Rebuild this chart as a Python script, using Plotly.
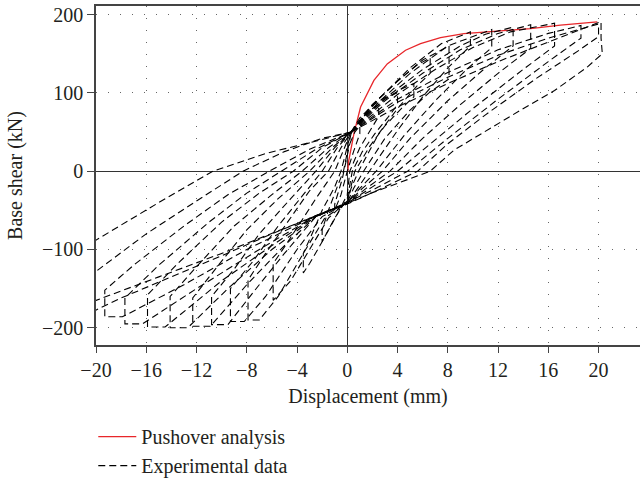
import plotly.graph_objects as go

# Pushover analysis curve (red)
pushover_x = [0.05, 0.1, 0.53, 1.06, 2.12, 3.18, 4.64, 5.83, 7.42, 9.28, 11.93, 14.58, 16.97, 19.9]
pushover_y = [0, 12, 48, 82, 116, 137, 154.5, 163, 170.7, 175.8, 179, 182, 186.5, 190.7]

# Experimental hysteresis cycles (largest first)
cyc00_x = [0.3, 4, 8, 12, 16, 19, 20.2, 20.2, 20.3, 19.1, 16.5, 13.8, 11.1, 8.5, 6.6, 4, 1.9, 0,
           -2.5, -5, -10, -15, -20, -22.5, -22.5, -20, -15, -10.7, -6.4, -2.1, 0.3]
cyc00_y = [50, 82, 112, 140, 165, 183, 191, 170, 150, 133, 103, 78, 52, 27, 0, -16, -28, -41,
           -57, -74, -105, -135, -165, -185, -150, -88, -40, 0, 23, 40, 50]
cyc01_x = [0.3, 4, 8, 12, 16, 19.5, 20.0, 20.0, 18.5, 15, 11, 8, 5.6, 3, 0,
           -2.5, -6, -10, -14, -18, -21, -21, -20, -16, -12, -8.3, -5, -2, 0.3]
cyc01_y = [50, 88, 120, 148, 170, 186, 188, 172, 155, 118, 72, 35, 0, -20, -42,
           -57, -80, -108, -135, -162, -185, -155, -128, -80, -38, 0, 25, 42, 50]
cyc02_x = [0.3, 4, 8, 12, 16, 18.6, 18.6, 16, 12, 8, 4.8, 2.5, 0,
           -2.5, -8, -13, -17.9, -19.3, -19.3, -17, -13, -9.5, -6.2, -3, 0.3]
cyc02_y = [50, 92, 126, 155, 176, 186, 170, 140, 92, 42, 0, -20, -40,
           -57, -100, -145, -186, -186, -152, -120, -70, -30, 0, 28, 50]
cyc03_x = [0.3, 4, 7, 10, 13, 16.5, 16.5, 14, 10, 7, 4, 2, 0,
           -2.5, -7, -12, -16.3, -17.7, -17.7, -15, -11, -8, -5.2, -2.5, 0.3]
cyc03_y = [50, 98, 130, 158, 178, 189, 160, 130, 80, 40, 0, -20, -41,
           -57, -100, -150, -195, -195, -162, -120, -65, -28, 0, 28, 50]
cyc04_x = [0.3, 3, 6, 9, 12, 14.6, 14.6, 12, 9, 6, 3.4, 1.5, 0,
           -2.5, -6, -10, -14.5, -15.9, -15.9, -13.5, -10, -7, -4.3, -2, 0.3]
cyc04_y = [50, 90, 125, 155, 176, 187, 157, 125, 85, 42, 0, -22, -41,
           -57, -95, -140, -199, -199, -158, -118, -65, -28, 0, 30, 50]
cyc05_x = [0.3, 3, 6, 9, 11, 13.2, 13.2, 11, 8, 5, 2.8, 1.2, 0,
           -2.5, -6, -9.5, -12.7, -14.1, -14.1, -12, -9, -6, -3.6, -1.5, 0.3]
cyc05_y = [50, 93, 130, 160, 175, 184, 160, 132, 90, 42, 0, -22, -41,
           -58, -100, -150, -200, -200, -160, -122, -70, -30, 0, 30, 50]
cyc06_x = [0.3, 2.5, 5, 8, 11.5, 11.5, 9.5, 7, 4.5, 2.3, 1, 0,
           -2.5, -5, -8, -10.9, -12.3, -12.3, -10.5, -8, -5.5, -3, -1.2, 0.3]
cyc06_y = [50, 88, 125, 160, 181, 158, 130, 90, 45, 0, -22, -41,
           -58, -95, -145, -198, -198, -162, -125, -75, -35, 0, 30, 50]
cyc07_x = [0.3, 2.5, 5, 7.5, 9.8, 9.8, 8, 6, 4, 1.8, 0.8, 0,
           -2.5, -5, -7.5, -9.5, -10.8, -10.8, -9, -7, -4.5, -2.5, -1, 0.3]
cyc07_y = [50, 92, 132, 163, 178, 160, 132, 95, 52, 0, -22, -41,
           -58, -105, -155, -196, -196, -160, -125, -80, -35, 0, 30, 50]
cyc08_x = [0.3, 2, 4, 6, 8.1, 8.1, 6.5, 5, 3, 1.3, 0.5, 0,
           -2, -4, -6.5, -8.2, -9.3, -9.3, -7.5, -5.5, -3.5, -2, -0.8, 0.3]
cyc08_y = [50, 85, 115, 142, 160, 118, 100, 78, 42, 0, -22, -40,
           -58, -100, -160, -192, -192, -150, -115, -70, -30, 0, 30, 50]
cyc09_x = [0.3, 2, 4, 5.5, 6.6, 6.6, 5.5, 4, 2.5, 0.9, 0.3, 0,
           -1.8, -3.5, -5.5, -7, -7.9, -7.9, -6.5, -4.5, -3, -1.5, -0.5, 0.3]
cyc09_y = [50, 85, 115, 135, 145, 125, 108, 80, 48, 0, -22, -40,
           -60, -105, -160, -190, -190, -139, -105, -60, -25, 0, 30, 50]
cyc10_x = [0.3, 1.5, 3, 4.3, 5.3, 5.3, 4.3, 3, 1.8, 0.6, 0,
           -1.5, -3, -4.5, -5.9, -5.9, -4.8, -3.5, -2.5, -1, -0.2, 0.3]
cyc10_y = [50, 72, 92, 105, 112, 95, 80, 58, 32, 0, -38,
           -60, -100, -140, -165, -118, -92, -60, -35, 0, 30, 50]
cyc11_x = [0.3, 1, 2, 3, 4, 4, 3.2, 2.2, 1.2, 0.4, 0,
           -1, -2, -3, -3.5, -3.5, -2.8, -2, -1, -0.5, 0.3]
cyc11_y = [50, 68, 84, 94, 100, 85, 68, 48, 25, 0, -35,
           -60, -90, -118, -130, -105, -80, -50, -20, 0, 50]
cyc12_x = [0.3, 1, 1.8, 2.5, 2.5, 1.8, 1, 0.2, 0, -0.8, -1.5, -2, -2, -1.5, -0.8, -0.3, 0.3]
cyc12_y = [48, 65, 78, 85, 70, 52, 30, 0, -30, -55, -75, -90, -75, -50, -20, 0, 48]
cyc13_x = [0.2, 0.6, 1, 1, 0.5, 0, -0.5, -1, -1, -0.4, 0.2]
cyc13_y = [35, 50, 58, 48, 25, 0, -30, -50, -42, -10, 35]

cycles = [
    (cyc00_x, cyc00_y), (cyc01_x, cyc01_y), (cyc02_x, cyc02_y), (cyc03_x, cyc03_y),
    (cyc04_x, cyc04_y), (cyc05_x, cyc05_y), (cyc06_x, cyc06_y), (cyc07_x, cyc07_y),
    (cyc08_x, cyc08_y), (cyc09_x, cyc09_y), (cyc10_x, cyc10_y), (cyc11_x, cyc11_y),
    (cyc12_x, cyc12_y), (cyc13_x, cyc13_y),
]

x_ticks = [-20, -16, -12, -8, -4, 0, 4, 8, 12, 16, 20]
y_ticks = [-200, -100, 0, 100, 200]

FONT = "Liberation Serif"
TEXT = "#231f20"

fig = go.Figure()

fig.add_trace(go.Scatter(
    x=pushover_x, y=pushover_y, mode="lines", name="Pushover analysis",
    line=dict(color="#e8262a", width=1.3),
))

for i, (cx, cy) in enumerate(cycles):
    fig.add_trace(go.Scatter(
        x=cx, y=cy, mode="lines", name="Experimental data",
        showlegend=(i == 0), legendrank=2000,
        line=dict(color="black", width=1.1, dash="7px,4px"),
    ))

fig.update_layout(
    width=640, height=480,
    margin=dict(l=96, r=0, t=6, b=135),
    paper_bgcolor="white", plot_bgcolor="white",
    font=dict(family=FONT, size=20, color=TEXT),
    showlegend=True,
    legend=dict(
        x=-0.005, xanchor="left",
        # container ref so the legend does not push the bottom margin
        yref="container", y=0.131, yanchor="top", itemwidth=38,
        font=dict(family=FONT, size=20, color=TEXT),
        bgcolor="rgba(0,0,0,0)", tracegroupgap=0,
    ),
)

fig.update_xaxes(
    range=[-20, 23.3], tickvals=x_ticks, automargin=False,
    showline=True, linecolor="#444", linewidth=1.5, mirror=True,
    ticks="outside", ticklen=6, tickcolor="#444",
    showgrid=True, gridcolor="#666", gridwidth=1, griddash="1px,11px",
    zeroline=True, zerolinecolor="#333", zerolinewidth=1.3,
    title=dict(text="Displacement (mm)", font=dict(size=20), standoff=9),
)
fig.update_yaxes(
    range=[-222, 211], tickvals=y_ticks, automargin=False,
    ticklabeloverflow="allow",
    showline=True, linecolor="#444", linewidth=1.5,
    ticks="outside", ticklen=7, tickcolor="#444",
    showgrid=True, gridcolor="#666", gridwidth=1, griddash="1px,11px",
    zeroline=True, zerolinecolor="#333", zerolinewidth=1.3,
    title=dict(text="Base shear (kN)", font=dict(size=20), standoff=14),
)

# drop the browser's default 8px body margin so the figure sits at the window origin
fig.write_html(
    "out.html",
    config={"displayModeBar": False},
    post_script="document.body.style.margin = '0';",
)
